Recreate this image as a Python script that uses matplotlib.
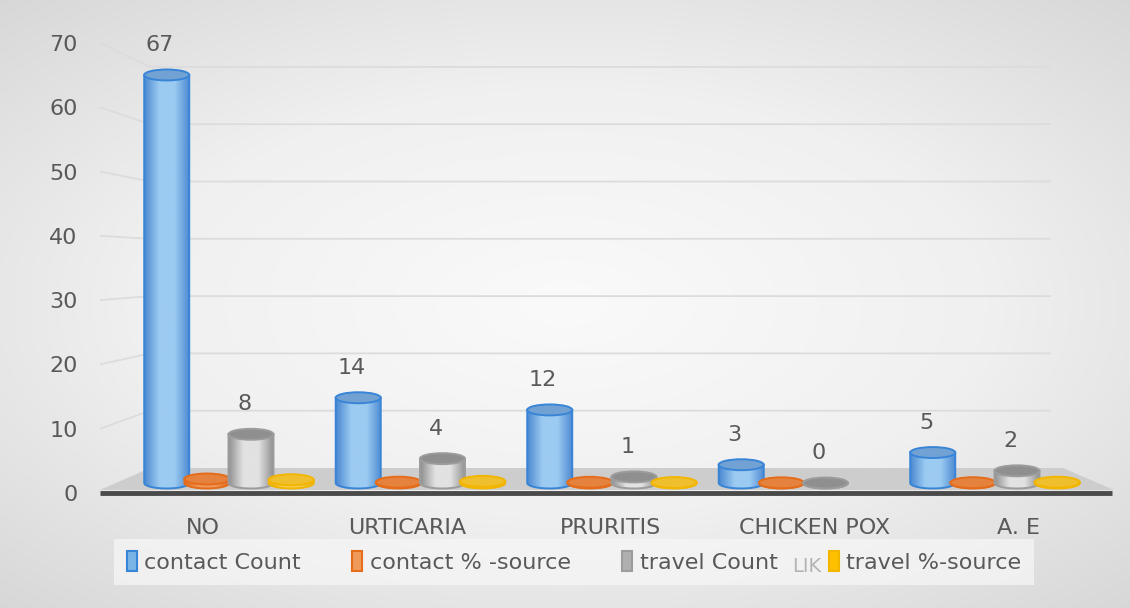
import numpy as np
import matplotlib.pyplot as plt
from matplotlib.patches import Ellipse, Polygon, Patch
from matplotlib.colors import LinearSegmentedColormap

# Daten
kategorien = ["NO", "URTICARIA", "PRURITIS", "CHICKEN POX", "A. E"]
contact_count = [67, 14, 12, 3, 5]
contact_pct = [0.66, 0.14, 0.12, 0.03, 0.05]
travel_count = [8, 4, 1, 0, 2]
travel_pct = [0.53, 0.27, 0.07, np.nan, 0.13]
y_ticks = [0, 10, 20, 30, 40, 50, 60, 70]
serien = ["contact Count", "contact % -source", "travel Count", "travel %-source"]

text_farbe = '#595959'
plt.rcParams['font.family'] = ['DejaVu Sans']

fig = plt.figure(figsize=(11.3, 6.08), dpi=100)

# Hintergrund mit leichtem Verlauf
bg = fig.add_axes([0, 0, 1, 1], zorder=-10)
yy, xx = np.mgrid[-1:1:300j, -1:1:560j]
r = np.sqrt((xx * 0.9) ** 2 + (yy * 0.95) ** 2)
bg.imshow(r, cmap=LinearSegmentedColormap.from_list('bg', ['#fafafa', '#f0f0f0', '#d6d6d6']),
          extent=[0, 1, 0, 1], aspect='auto', vmin=0, vmax=1.35)
bg.set_xlim(0, 1)
bg.set_ylim(0, 1)
bg.axis('off')

ax = fig.add_axes([100 / 1130, 115 / 608, 1015 / 1130, 473 / 608])
ax.patch.set_alpha(0)


# Hilfsfunktionen Pixel -> Daten (3D-Perspektive nachbilden)
def px_x(p):
    return (p - 228) / 191.5


def px_y(p):
    return (483 - p) / 6.09


def vorne(v):      # Position der Achsenbeschriftung (Vorderkante)
    return (-10 + 6.43 * v) / 6.09


def hinten(v):     # Gitterlinie an der Rückwand
    return (15 + 5.73 * v) / 6.09


# Boden
boden = Polygon([(px_x(100), px_y(490)), (px_x(150), px_y(468)), (px_x(1063), px_y(468)),
                 (px_x(1114), px_y(490))], closed=True, facecolor='#cdcdcd', edgecolor='none', zorder=1)
ax.add_patch(boden)
ax.plot([px_x(100), px_x(1112)], [vorne(0), vorne(0)], color='#4a4a4a', lw=3.5, zorder=2,
        clip_on=False, solid_capstyle='butt')

# Gitterlinien
for v in y_ticks[1:]:
    ax.plot([px_x(100), px_x(150), px_x(1050)], [vorne(v), hinten(v), hinten(v)],
            color='#dcdcdc', lw=1.3, zorder=0.5)

eh = 1.8  # Höhe der Ellipse


def zylinder(x, h, w, rand, hell, deckel, linie, z):
    if np.isnan(h):
        return
    t = np.linspace(np.pi, 2 * np.pi, 40)
    pts = [(x + w / 2 * np.cos(a), eh / 2 * np.sin(a)) for a in t]
    pts += [(x + w / 2, h), (x - w / 2, h)]
    koerper = Polygon(pts, closed=True, facecolor='none', edgecolor=linie, lw=1.4, zorder=z + 0.2)
    ax.add_patch(koerper)
    cmap = LinearSegmentedColormap.from_list('z', [rand, hell, hell, rand], N=256)
    grad = np.linspace(0, 1, 200)[None, :]
    im = ax.imshow(grad, extent=[x - w / 2, x + w / 2, -eh / 2, h], aspect='auto', cmap=cmap,
                   zorder=z, interpolation='bicubic')
    im.set_clip_path(koerper)
    ax.add_patch(Ellipse((x, h), w, eh, facecolor=deckel, edgecolor=linie, lw=1.4, zorder=z + 0.3))


breite = 0.235
stil = [
    dict(rand='#4a88d0', hell='#9ccbf2', deckel='#72a2d4', linie='#3884d6'),
    dict(rand='#e2691d', hell='#f09a5a', deckel='#e5823e', linie='#e46c1a'),
    dict(rand='#8e8e8e', hell='#e2e2e2', deckel='#8f8f8f', linie='#9c9c9c'),
    dict(rand='#e8ae10', hell='#f8d050', deckel='#f0bf2e', linie='#f2b500'),
]
versatz = [-0.32, -0.11, 0.12, 0.33]
werte = [contact_count, contact_pct, travel_count, travel_pct]

for s, (vals, dx, st) in enumerate(zip(werte, versatz, stil)):
    for i, v in enumerate(vals):
        zylinder(i + dx, v, breite, z=3 + s + i * 0.01, **st)

# Datenbeschriftungen für die Count-Serien
for vals, dx in [(contact_count, versatz[0]), (travel_count, versatz[2])]:
    for i, v in enumerate(vals):
        ax.text(i + dx - 0.035, v + 4.9, str(v), ha='center', va='center', fontsize=16, color=text_farbe)

ax.set_xlim(px_x(100), px_x(1115))
ax.set_ylim(px_y(493), px_y(20))

# Achsen
ax.set_yticks([vorne(v) for v in y_ticks])
ax.set_yticklabels([str(v) for v in y_ticks], fontsize=16, color=text_farbe)
ax.set_xticks([i + (i - 2) * 0.065 for i in range(len(kategorien))])
ax.set_xticklabels(kategorien, fontsize=16, color=text_farbe)
ax.tick_params(axis='y', length=0, pad=16)
ax.tick_params(axis='x', length=0, pad=18)
for sp in ax.spines.values():
    sp.set_visible(False)

# Legende
handles = [Patch(facecolor=st['hell'], edgecolor=st['linie'], lw=1.5) for st in stil]
handles[0].set_facecolor('#7ab4e6')
handles[2].set_facecolor('#b0b0b0')
handles[3].set_facecolor('#ffc000')
leg = fig.legend(handles, serien, loc='center', bbox_to_anchor=(0.508, 0.0757), ncol=4,
                 fontsize=16, frameon=True, facecolor='#f6f6f6', edgecolor='none', framealpha=0.75,
                 handlelength=0.45, handleheight=1.0, handletextpad=0.35, columnspacing=2.3,
                 borderpad=0.55, borderaxespad=0, fancybox=False, labelcolor=text_farbe)

fig.text(792 / 1130, 1 - 566 / 608, 'LIK', fontsize=14, color='#b3b3b3', va='center', ha='left', zorder=6)

plt.savefig('out.png', dpi=100)
